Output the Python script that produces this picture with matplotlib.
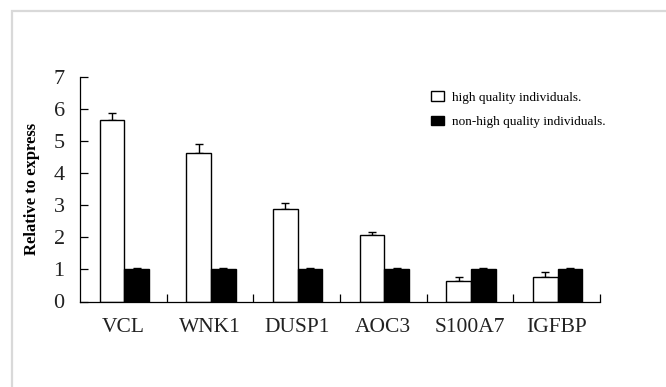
import matplotlib
matplotlib.use("Agg")
import matplotlib.pyplot as plt
import numpy as np
from matplotlib.patches import Rectangle

categories = ["VCL", "WNK1", "DUSP1", "AOC3", "S100A7", "IGFBP"]
high_quality = [5.64, 4.63, 2.89, 2.06, 0.64, 0.77]
high_quality_err = [0.24, 0.26, 0.18, 0.09, 0.12, 0.16]
non_high_quality = [1.0, 1.0, 1.0, 1.0, 1.0, 1.0]
non_high_quality_err = [0.04, 0.04, 0.04, 0.04, 0.04, 0.04]
yticks = [0, 1, 2, 3, 4, 5, 6, 7]
series_labels = ["high quality individuals.", "non-high quality individuals."]

serif = ["Liberation Serif", "DejaVu Serif"]
plt.rcParams["font.family"] = serif

fig = plt.figure(figsize=(6.66, 3.87), dpi=100)
fig.patch.set_facecolor("white")
# light grey frame
fig.patches.append(Rectangle((11.5 / 666, -0.05), 1.2, 1 - 11 / 387 + 0.05,
                             transform=fig.transFigure, fill=False,
                             edgecolor="#d9d9d9", linewidth=1.6))

ax = fig.add_axes([80 / 666, 1 - 301.5 / 387, 520 / 666, (301.5 - 76.5) / 387])
x = np.arange(len(categories))
w = 0.285
ekw = dict(elinewidth=1.0, capthick=1.0)
ax.bar(x - 0.13, high_quality, w, color="white", edgecolor="black", linewidth=1.0,
       label=series_labels[0], zorder=2)
ax.errorbar(x - 0.13, high_quality, yerr=[np.zeros(len(x)), high_quality_err],
            fmt="none", ecolor="black", capsize=3, zorder=1, **ekw)
ax.bar(x + 0.155, non_high_quality, w, color="black", edgecolor="black", linewidth=1.0,
       label=series_labels[1], zorder=2)
ax.errorbar(x + 0.155, non_high_quality, yerr=[np.zeros(len(x)), non_high_quality_err],
            fmt="none", ecolor="black", capsize=3, zorder=1, **ekw)

ax.set_xlim(-0.5, len(categories) - 0.5)
ax.set_ylim(0, 7)
ax.spines["top"].set_visible(False)
ax.spines["right"].set_visible(False)
for s in ("left", "bottom"):
    ax.spines[s].set_linewidth(0.9)

ax.set_yticks(yticks)
ax.set_yticklabels([str(v) for v in yticks])
ax.tick_params(axis="y", direction="in", length=6, width=0.9, pad=11,
               labelsize=16, labelcolor="#222222")
ax.set_xticks(np.arange(len(categories)) + 0.5)
ax.set_xticklabels([])
ax.tick_params(axis="x", which="major", direction="in", length=6, width=0.9)
ax.set_xticks(x, minor=True)
ax.set_xticklabels(categories, minor=True, fontsize=15.5, color="#222222")
ax.tick_params(axis="x", which="minor", length=0, pad=12)

ax.set_ylabel("Relative to express", fontsize=12, fontweight="bold")
ax.yaxis.set_label_coords(-40 / 520, 0.5)

leg = ax.legend(loc="upper left", bbox_to_anchor=((426 - 80) / 520, 1 - (86 - 76.5) / 225),
                frameon=False, fontsize=9.5, handlelength=0.95, handleheight=0.75,
                handletextpad=0.6, labelspacing=0.9, borderaxespad=0)

fig.savefig("out.png", dpi=100, facecolor="white")
